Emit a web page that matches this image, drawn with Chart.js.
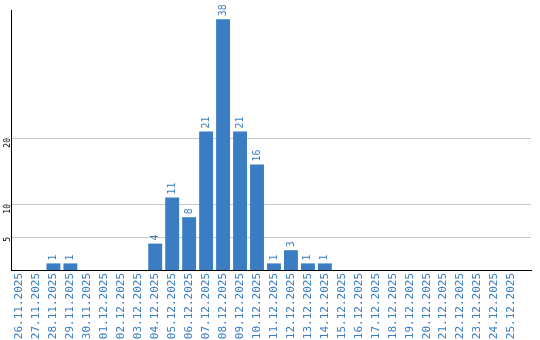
<!DOCTYPE html>
<html>
<head>
<meta charset="utf-8">
<script src="https://cdn.jsdelivr.net/npm/chart.js@4/dist/chart.umd.min.js"></script>
<style>
  html, body { margin: 0; padding: 0; background: #fff; }
  #wrap { width: 540px; height: 340px; }
</style>
</head>
<body>
<div id="wrap"><canvas id="chart"></canvas></div>
<script>
const dates = [
    '26.11.2025', '27.11.2025', '28.11.2025', '29.11.2025', '30.11.2025',
    '01.12.2025', '02.12.2025', '03.12.2025', '04.12.2025', '05.12.2025',
    '06.12.2025', '07.12.2025', '08.12.2025', '09.12.2025', '10.12.2025',
    '11.12.2025', '12.12.2025', '13.12.2025', '14.12.2025', '15.12.2025',
    '16.12.2025', '17.12.2025', '18.12.2025', '19.12.2025', '20.12.2025',
    '21.12.2025', '22.12.2025', '23.12.2025', '24.12.2025', '25.12.2025'
];
const counts = [0, 0, 1, 1, 0, 0, 0, 0, 4, 11, 8, 21, 38, 21, 16, 1, 3, 1, 1, 0, 0, 0, 0, 0, 0, 0, 0, 0, 0, 0];
const yTicks = [5, 10, 20];

const BLUE = '#3a7dc2';

// numbers above the bars, rotated
const valueLabels = {
    id: 'valueLabels',
    afterDatasetsDraw(chart) {
        const ctx = chart.ctx;
        const meta = chart.getDatasetMeta(0);
        ctx.save();
        ctx.fillStyle = BLUE;
        ctx.font = '10px "DejaVu Sans Mono"';
        ctx.textAlign = 'left';
        ctx.textBaseline = 'middle';
        meta.data.forEach((bar, i) => {
            const v = counts[i];
            if (!v) return;
            ctx.save();
            ctx.translate(bar.x, bar.y - 3);
            ctx.rotate(-Math.PI / 2);
            ctx.fillText(String(v), 0, 0);
            ctx.restore();
        });
        ctx.restore();
    }
};

new Chart(document.getElementById('chart'), {
    type: 'bar',
    data: {
        datasets: [{
            data: counts.map((v, i) => ({ x: i, y: v })),
            backgroundColor: BLUE,
            borderWidth: 0,
            barPercentage: 0.82,
            categoryPercentage: 1
        }]
    },
    options: {
        responsive: true,
        maintainAspectRatio: false,
        animation: false,
        layout: { padding: { top: 10, right: 9, left: 0, bottom: 0 } },
        plugins: { legend: { display: false }, tooltip: { enabled: false } },
        scales: {
            x: {
                type: 'linear',
                offset: false,
                min: -0.5,
                max: 30.15,
                afterBuildTicks: axis => { axis.ticks = dates.map((d, i) => ({ value: i })); },
                afterFit: axis => { axis.height = 70; },
                grid: { display: false, drawTicks: false },
                border: { display: true, color: '#000', width: 1 },
                ticks: {
                    autoSkip: false,
                    minRotation: 90,
                    maxRotation: 90,
                    padding: 3,
                    color: BLUE,
                    font: { family: 'DejaVu Sans Mono', size: 11 },
                    callback: v => dates[v] || ''
                }
            },
            y: {
                min: 0,
                max: 39.4,
                afterBuildTicks: axis => { axis.ticks = yTicks.map(v => ({ value: v })); },
                afterFit: axis => { axis.width = 11; },
                grid: { color: '#c8c8c8', lineWidth: 1, drawTicks: false },
                border: { display: true, color: '#000', width: 1 },
                ticks: {
                    minRotation: 90,
                    maxRotation: 90,
                    padding: 3,
                    color: '#000',
                    font: { family: 'DejaVu Sans Mono', size: 8 }
                }
            }
        }
    },
    plugins: [valueLabels]
});
</script>
</body>
</html>
